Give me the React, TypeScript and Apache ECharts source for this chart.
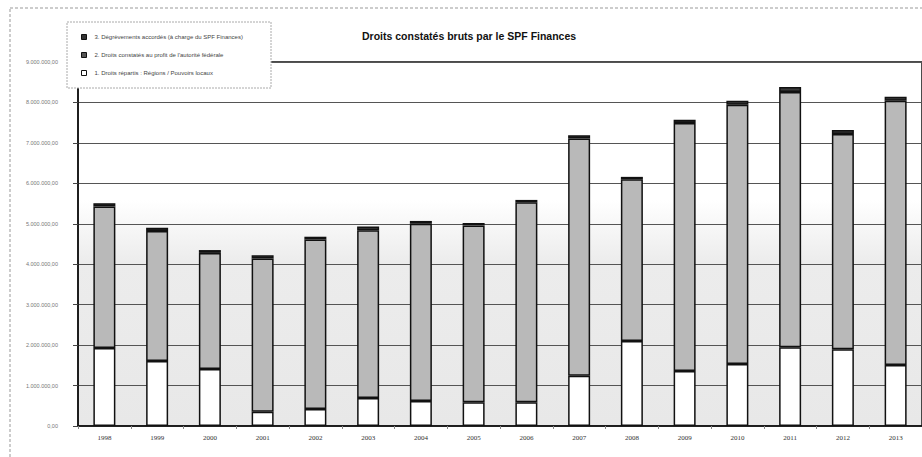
import React, { useEffect, useRef } from "react";
import * as echarts from "echarts";

const years = ["1998", "1999", "2000", "2001", "2002", "2003", "2004", "2005", "2006", "2007", "2008", "2009", "2010", "2011", "2012", "2013"];
// values in millions (axis labels shown as x.000.000,00)
const s1Values = [1.93, 1.61, 1.41, 0.35, 0.42, 0.69, 0.62, 0.59, 0.59, 1.24, 2.10, 1.36, 1.53, 1.95, 1.90, 1.51];
const s2Values = [3.50, 3.21, 2.87, 3.79, 4.19, 4.15, 4.38, 4.37, 4.94, 5.87, 4.00, 6.13, 6.41, 6.31, 5.32, 6.53];
const s3Values = [0.08, 0.08, 0.07, 0.08, 0.07, 0.09, 0.07, 0.06, 0.06, 0.08, 0.06, 0.08, 0.10, 0.12, 0.10, 0.10];
const seriesNames = [
  "1. Droits répartis : Régions / Pouvoirs locaux",
  "2. Droits constatés au profit de l'autorité fédérale",
  "3. Dégrèvements accordés (à charge du SPF Finances)",
];
const chartTitle = "Droits constatés bruts par le SPF Finances";

export default function App() {
  const ref = useRef<HTMLDivElement>(null);
  useEffect(() => {
    document.body.style.margin = "0";
    const chart = echarts.init(ref.current!, null, { renderer: "svg" });
    const barStyle = (color: string) => ({ color, borderColor: "#111", borderWidth: 1.5 });
    chart.setOption({
      animation: false,
      backgroundColor: "#fff",
      title: {
        text: chartTitle,
        left: 357,
        top: 25,
        textStyle: { fontFamily: "Arial, Liberation Sans", fontSize: 10.5, fontWeight: "bold", color: "#111" },
      },
      graphic: [
        {
          type: "rect",
          z: -10,
          shape: { x: 10, y: 8, width: 940, height: 452 },
          style: { fill: "none", stroke: "#999", lineWidth: 1, lineDash: [3, 2] },
        },
        {
          type: "rect",
          z: 100,
          zlevel: 0,
          shape: { x: 67, y: 22, width: 204, height: 66 },
          style: { fill: "#fff", stroke: "#aaa", lineWidth: 1, lineDash: [2, 1] },
        },
      ],
      legend: {
        orient: "vertical",
        left: 76,
        top: 29,
        z: 101,
        icon: "rect",
        itemGap: 12,
        itemWidth: 5,
        itemHeight: 5,
        data: [
          { name: seriesNames[2], itemStyle: { color: "#333", borderColor: "#111", borderWidth: 1 } },
          { name: seriesNames[1], itemStyle: { color: "#555", borderColor: "#111", borderWidth: 1 } },
          { name: seriesNames[0], itemStyle: { color: "#fff", borderColor: "#111", borderWidth: 1 } },
        ],
        textStyle: { fontFamily: "Arial, Liberation Sans", fontSize: 6, color: "#444", padding: [0, 0, 0, 3] },
      },
      grid: {
        left: 78,
        top: 62,
        width: 853,
        height: 364,
        show: true,
        borderColor: "#111",
        borderWidth: 1.5,
        backgroundColor: new echarts.graphic.LinearGradient(0, 0, 0, 1, [
          { offset: 0, color: "#ffffff" },
          { offset: 0.38, color: "#ffffff" },
          { offset: 0.55, color: "#ececec" },
          { offset: 1, color: "#e8e8e8" },
        ]),
      },
      xAxis: {
        type: "category",
        data: years,
        axisLine: { lineStyle: { color: "#111", width: 1.5 } },
        axisTick: { show: true, length: 3, lineStyle: { color: "#888" } },
        axisLabel: { fontFamily: "Liberation Serif, Times New Roman, serif", fontSize: 7, color: "#333", margin: 8 },
      },
      yAxis: {
        type: "value",
        min: 0,
        max: 9,
        interval: 1,
        axisLine: { show: true, lineStyle: { color: "#111", width: 1.5 } },
        axisTick: { show: true, length: 5, lineStyle: { color: "#444" } },
        splitLine: { lineStyle: { color: "#555", width: 1 } },
        axisLabel: {
          fontFamily: "Arial, Liberation Sans",
          fontSize: 5.5,
          color: "#777",
          margin: 20,
          formatter: (v: number) => (v === 0 ? "0,00" : `${v}.000.000,00`),
        },
      },
      series: [
        { name: seriesNames[0], type: "bar", stack: "t", barWidth: 22, data: s1Values, itemStyle: barStyle("#ffffff"), z: 2 },
        { name: seriesNames[1], type: "bar", stack: "t", barWidth: 22, data: s2Values, itemStyle: barStyle("#b9b9b9"), z: 2 },
        { name: seriesNames[2], type: "bar", stack: "t", barWidth: 22, data: s3Values, itemStyle: barStyle("#3a3a3a"), z: 2 },
      ],
    });
    return () => chart.dispose();
  }, []);
  return <div ref={ref} style={{ width: 922, height: 457 }} />;
}
